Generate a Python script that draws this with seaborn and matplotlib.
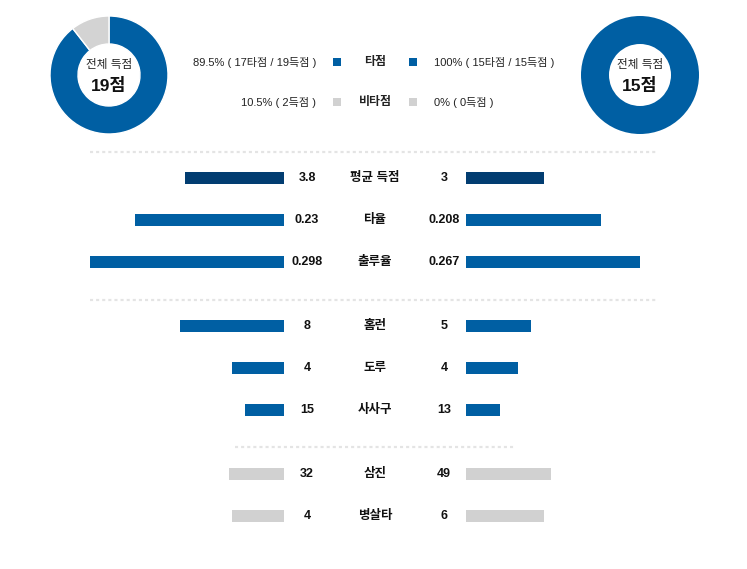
import matplotlib
matplotlib.use("Agg")
import matplotlib.pyplot as plt
import seaborn as sns
import pandas as pd

# ---------------- data ----------------
categories = ['평균 득점', '타율', '출루율', '홈런', '도루', '사사구', '삼진', '병살타']
home_vals = [3.8, 0.23, 0.298, 8, 4, 15, 32, 4]
away_vals = [3, 0.208, 0.267, 5, 4, 13, 49, 6]
scale_max = [10, 0.4, 0.4, 20, 20, 100, 150, 20]
groups = [0, 0, 0, 1, 1, 1, 2, 2]
kinds = ['avg', 'main', 'main', 'main', 'main', 'main', 'neg', 'neg']

home_rbi, home_runs = 17, 19
away_rbi, away_runs = 15, 15

# ---------------- style ----------------
sns.set_theme(style="white")
FONT = ['Liberation Sans', 'Noto Sans CJK KR', 'DejaVu Sans']
plt.rcParams['font.family'] = FONT
plt.rcParams['lines.scale_dashes'] = False

BLUE = '#005fa3'
NAVY = '#023d71'
GRAY = '#d1d1d1'
DOT = '#e4e4e4'
palette = {'avg': NAVY, 'main': BLUE, 'neg': GRAY}

W, H = 747, 569
fig = plt.figure(figsize=(W / 100, H / 100), dpi=100)


def fig_rect(x0, y0, w, h):
    return [x0 / W, 1 - (y0 + h) / H, w / W, h / H]


# row positions (pixels from top)
ypos = [178 + i * 42 + g * 22 for i, g in enumerate(groups)]

df = pd.DataFrame({
    'cat': categories,
    'home': [v / m for v, m in zip(home_vals, scale_max)],
    'away': [v / m for v, m in zip(away_vals, scale_max)],
    'kind': kinds,
    'y': ypos,
})

BAR_W = 260
axL = fig.add_axes(fig_rect(284 - BAR_W, 0, BAR_W, H))
axR = fig.add_axes(fig_rect(466, 0, BAR_W, H))
for ax, col in ((axL, 'home'), (axR, 'away')):
    sns.barplot(data=df, x=col, y='y', hue='kind', palette=palette, orient='h',
                native_scale=True, width=12 / 42, errorbar=None, legend=False,
                saturation=1, linewidth=0, ax=ax)
    ax.set_ylim(H, 0)
    ax.set_axis_off()
axL.set_xlim(1, 0)
axR.set_xlim(0, 1)

# overlay for text
ov = fig.add_axes([0, 0, 1, 1])
ov.set_xlim(0, W)
ov.set_ylim(H, 0)
ov.set_axis_off()
ov.patch.set_alpha(0)

for c, hv, av, y in zip(categories, home_vals, away_vals, ypos):
    ov.text(307, y, f"{hv:g}", ha='center', va='center', fontsize=9,
            fontweight='bold', color='#111111')
    ov.text(375, y, c, ha='center', va='center', fontsize=9,
            fontweight='bold', color='#111111')
    ov.text(444, y, f"{av:g}", ha='center', va='center', fontsize=9,
            fontweight='bold', color='#111111')

# dotted separators
for y, x0, x1 in ((152, 90, 657), (300, 90, 657), (447, 235, 514)):
    ov.plot([x0, x1], [y, y], color=DOT, lw=1.6, linestyle=(0, (2.2, 2.2)),
            solid_capstyle='butt', dash_capstyle='butt')

# legend rows
home_pct = home_rbi / home_runs * 100
away_pct = away_rbi / away_runs * 100
home_non = home_runs - home_rbi
away_non = away_runs - away_rbi
rows = [
    (62, f"{home_pct:.1f}% ( {home_rbi}타점 / {home_runs}득점 )", '타점',
     f"{away_pct:g}% ( {away_rbi}타점 / {away_runs}득점 )", BLUE),
    (102, f"{100 - home_pct:.1f}% ( {home_non}득점 )", '비타점',
     f"{100 - away_pct:g}% ( {away_non}득점 )", GRAY),
]
for y, lt, mid, rt, col in rows:
    ov.text(316, y, lt, ha='right', va='center', fontsize=8, color='#222222')
    ov.text(375, y, mid, ha='center', va='center', fontsize=8.6,
            fontweight='bold', color='#222222')
    ov.text(434, y, rt, ha='left', va='center', fontsize=8, color='#222222')
    for sx in (337, 413):
        ov.add_patch(plt.Rectangle((sx - 4, y - 4), 8, 8, color=col, lw=0))

# donuts
R = 59
for cx, rbi, runs in ((109, home_rbi, home_runs), (640, away_rbi, away_runs)):
    dax = fig.add_axes(fig_rect(cx - R, 75 - R, 2 * R, 2 * R))
    vals = [rbi, runs - rbi]
    cols = [BLUE, '#d3d3d3']
    nz = [(v, c) for v, c in zip(vals, cols) if v > 0]
    dax.pie([v for v, _ in nz], colors=[c for _, c in nz], startangle=90,
            counterclock=False, radius=1,
            wedgeprops=dict(width=28 / 59, edgecolor='white',
                            linewidth=1.0 if len(nz) > 1 else 0))
    dax.set_xlim(-1, 1)
    dax.set_ylim(-1, 1)
    dax.set_aspect('equal')
    dax.set_axis_off()
    ov.text(cx, 65, '전체 득점', ha='center', va='center', fontsize=8.4,
            color='#222222')
    ov.text(cx, 86, f"{runs}점", ha='center', va='center', fontsize=12.5,
            fontweight='bold', color='#111111')

fig.savefig('out.png', dpi=100)
